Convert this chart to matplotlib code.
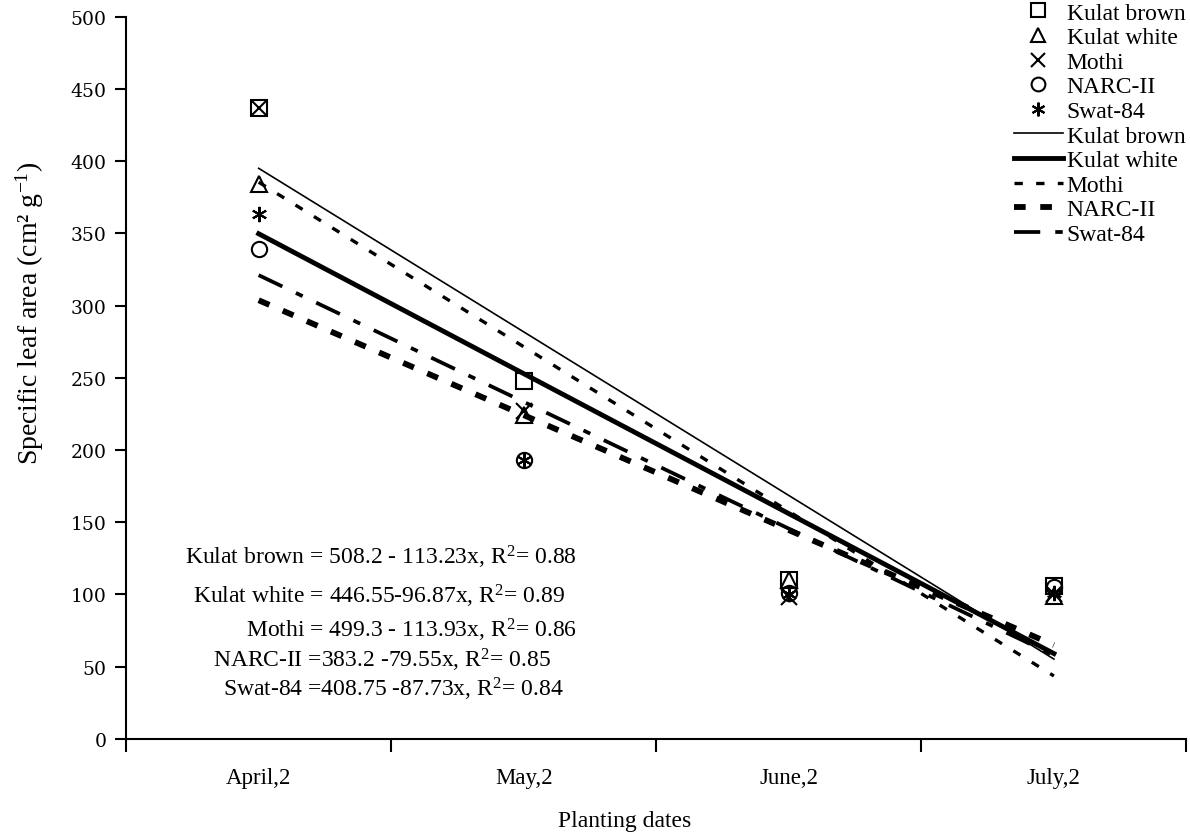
import numpy as np
import matplotlib.pyplot as plt

plt.rcParams["font.family"] = ["Liberation Serif", "DejaVu Serif"]
plt.rcParams["mathtext.fontset"] = "custom"
plt.rcParams["mathtext.rm"] = "Liberation Serif"
plt.rcParams["mathtext.it"] = "Liberation Serif:italic"

# ======================
# DATA
# ======================
dates = ["April,2", "May,2", "June,2", "July,2"]
varieties = ["Kulat brown", "Kulat white", "Mothi", "NARC-II", "Swat-84"]

kulat_brown = [437, 248, 110, 106]
kulat_white = [384, 224, 110, 99]
mothi = [437, 227, 98, 100]
narc_ii = [339, 193, 101, 105]
swat_84 = [363, 193, 100, 101]

intercepts = [508.2, 446.55, 499.3, 383.2, 408.75]
slopes = [-113.23, -96.87, -113.93, -79.55, -87.73]

equations = [
    "Kulat brown = 508.2 - 113.23x, R$^2$= 0.88",
    "Kulat white = 446.55-96.87x, R$^2$= 0.89",
    "Mothi = 499.3 - 113.93x, R$^2$= 0.86",
    "NARC-II =383.2 -79.55x, R$^2$= 0.85",
    "Swat-84 =408.75 -87.73x, R$^2$= 0.84",
]

# ======================
# STYLE
# ======================
markers = ["s", "^", "x", "o", (6, 2, 0)]
line_styles = [
    dict(lw=1.2, ls="-"),
    dict(lw=3.5, ls="-"),
    dict(lw=2.4, ls=(0, (2.5, 4))),
    dict(lw=4.2, ls=(0, (2, 2.5))),
    dict(lw=2.7, ls=(0, (7, 4, 2, 4))),
]

series = [kulat_brown, kulat_white, mothi, narc_ii, swat_84]
x = np.arange(1, len(dates) + 1)

fig = plt.figure(figsize=(11.9, 8.37), dpi=100)
ax = fig.add_axes([0.106, 0.116, 0.891, 0.863])

marker_handles = []
for name, vals, m in zip(varieties, series, markers):
    h, = ax.plot(x, vals, ls="none", marker=m, ms=11, mfc="none",
                 mec="black", mew=1.5, label=name, zorder=3)
    marker_handles.append(h)

line_handles = []
for name, a, b, st in zip(varieties, intercepts, slopes, line_styles):
    xx = np.array([x[0], x[-1]])
    h, = ax.plot(xx, a + b * xx, color="black", label=name, **st)
    line_handles.append(h)

ax.set_xlim(0.5, 4.5)
ax.set_ylim(0, 500)
ax.set_yticks(np.arange(0, 501, 50))
ax.set_xticks(np.arange(0.5, 4.6, 1))
ax.set_xticklabels([])
ax.set_xticks(x, minor=True)
ax.set_xticklabels(dates, minor=True, fontsize=16.5)
ax.tick_params(axis="x", which="minor", length=0, pad=20)
ax.tick_params(axis="x", which="major", length=9, width=1.5, direction="out")
ax.tick_params(axis="y", length=8, width=1.5, direction="out", pad=6)
for lab in ax.get_yticklabels():
    lab.set_fontfamily("DejaVu Serif")
    lab.set_fontsize(13.5)

for s in ["top", "right"]:
    ax.spines[s].set_visible(False)
for s in ["left", "bottom"]:
    ax.spines[s].set_linewidth(1.5)

fig.text(30 / 1190, 1 - 313 / 837, "Specific leaf area (cm² g$^{\\mathregular{-1}}$)",
         rotation=90, fontsize=20, ha="center", va="center")
fig.text(0.5 + 30 / 1190, 1 - 822 / 837, "Planting dates",
         fontsize=17, ha="center", va="center")

# equations
eq_pos = [(381, 126), (379, 99), (411, 76), (382, 55), (393, 35)]
for txt, (px, py) in zip(equations, eq_pos):
    ax.text((px - 126) / 265.0 + 0.5, py, txt, fontsize=17, ha="center", va="center")

leg = ax.legend(handles=marker_handles + line_handles, loc="upper right",
                bbox_to_anchor=(0.999, 1.02), frameon=False, fontsize=17,
                handlelength=2.1, handletextpad=0.15, labelspacing=0.13,
                borderaxespad=0, borderpad=0, markerscale=0.9)

fig.savefig("out.png", dpi=100)
